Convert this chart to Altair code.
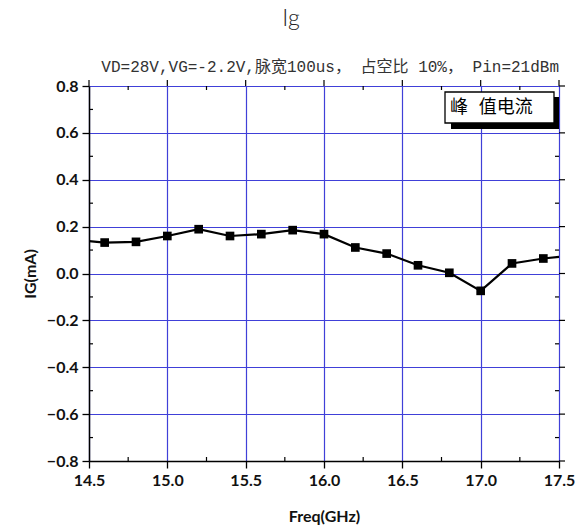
import altair as alt
import pandas as pd

# ---- data ----
freq = [14.4, 14.6, 14.8, 15.0, 15.2, 15.4, 15.6, 15.8, 16.0, 16.2, 16.4, 16.6, 16.8, 17.0, 17.2, 17.4, 17.6]
ig = [0.145, 0.132, 0.135, 0.160, 0.189, 0.160, 0.168, 0.185, 0.168, 0.111, 0.085, 0.035, 0.003, -0.074, 0.043, 0.064, 0.078]
shown = [False] + [True] * 15 + [False]

x_major = [14.5, 15.0, 15.5, 16.0, 16.5, 17.0, 17.5]
x_minor = [14.75, 15.25, 15.75, 16.25, 16.75, 17.25]
y_major = [-0.8, -0.6, -0.4, -0.2, 0.0, 0.2, 0.4, 0.6, 0.8]
y_minor = [-0.7, -0.5, -0.3, -0.1, 0.1, 0.3, 0.5, 0.7]

title_text = "Ig"
cond_text = "VD=28V,VG=-2.2V,脉宽100us， 占空比 10%， Pin=21dBm"
legend_text = "峰 值电流"
x_title = "Freq(GHz)"
y_title = "IG(mA)"

W, H = 470, 375
GRID = "#4040d8"
LBL_FONT = "Lato"
SERIF = "Liberation Mono, Noto Sans CJK SC"

df = pd.DataFrame({"freq": freq, "ig": ig, "shown": shown})
xs = alt.Scale(domain=[14.5, 17.5], nice=False, zero=False)
ys = alt.Scale(domain=[-0.8, 0.8], nice=False, zero=False)

x_axis = alt.Axis(values=x_major, format=".1f", grid=True, gridColor=GRID, gridWidth=1.2,
                  tickSize=7, tickColor="black", tickWidth=1.3, domainColor="black", domainWidth=1.5,
                  labelFont=LBL_FONT, labelFontWeight="bold", labelFontSize=16, labelColor="#111",
                  labelPadding=4, title=x_title, titleFont=LBL_FONT, titleFontWeight="bold",
                  titleFontSize=16, titleColor="#111", titleY=55, titleBaseline="middle",
                  labelFlush=False)
y_axis = alt.Axis(values=y_major, format=".1f", grid=True, gridColor=GRID, gridWidth=1.2,
                  tickSize=7, tickColor="black", tickWidth=1.3, domainColor="black", domainWidth=1.5,
                  labelFont=LBL_FONT, labelFontWeight="bold", labelFontSize=16, labelColor="#111",
                  labelPadding=4, title=y_title, titleFont=LBL_FONT, titleFontWeight="bold",
                  titleFontSize=16, titleColor="#111", titleX=-59, titleY=H / 2,
                  titleBaseline="middle", titleAngle=-90, labelFlush=False)

base = alt.Chart(df)

main = base.mark_line(color="#000", strokeWidth=2.2, clip=True).encode(
    x=alt.X("freq:Q", scale=xs, axis=x_axis),
    y=alt.Y("ig:Q", scale=ys, axis=y_axis),
)
pts = base.transform_filter("datum.shown").mark_point(
    shape="square", filled=True, color="#000", size=75, opacity=1
).encode(x=alt.X("freq:Q", scale=xs), y=alt.Y("ig:Q", scale=ys))

# minor ticks (inward) and mirrored major ticks on top / right
mx = pd.DataFrame({"v": x_minor})
my = pd.DataFrame({"v": y_minor})
Mx = pd.DataFrame({"v": x_major})
My = pd.DataFrame({"v": y_major})
rule = dict(color="black", strokeWidth=1.2)
minor_b = alt.Chart(mx).mark_rule(**rule).encode(
    x=alt.X("v:Q", scale=xs), y=alt.value(H), y2=alt.value(H - 4))
minor_t = alt.Chart(mx).mark_rule(**rule).encode(
    x=alt.X("v:Q", scale=xs), y=alt.value(0), y2=alt.value(4))
minor_l = alt.Chart(my).mark_rule(**rule).encode(
    y=alt.Y("v:Q", scale=ys), x=alt.value(0), x2=alt.value(4))
minor_r = alt.Chart(my).mark_rule(**rule).encode(
    y=alt.Y("v:Q", scale=ys), x=alt.value(W), x2=alt.value(W - 4))
major_t = alt.Chart(Mx).mark_rule(**rule).encode(
    x=alt.X("v:Q", scale=xs), y=alt.value(0), y2=alt.value(-6))
major_r = alt.Chart(My).mark_rule(**rule).encode(
    y=alt.Y("v:Q", scale=ys), x=alt.value(W), x2=alt.value(W + 6))

# legend box
one = pd.DataFrame({"t": [legend_text]})
shadow = alt.Chart(one).mark_rect(color="black").encode(
    x=alt.value(362), x2=alt.value(470), y=alt.value(11), y2=alt.value(43))
box = alt.Chart(one).mark_rect(fill="white", stroke="black", strokeWidth=1.3).encode(
    x=alt.value(356), x2=alt.value(465), y=alt.value(6), y2=alt.value(37))
leg = alt.Chart(one).mark_text(font=SERIF, fontSize=18, align="left", baseline="middle",
                               color="black").encode(
    x=alt.value(361), y=alt.value(22), text="t:N")

cond = alt.Chart(pd.DataFrame({"t": [cond_text]})).mark_text(
    font=SERIF, fontSize=16, align="right", baseline="alphabetic", color="#333"
).encode(x=alt.value(W), y=alt.value(-14), text="t:N")

chart = alt.layer(
    main, pts, minor_b, minor_t, minor_l, minor_r, major_t, major_r, shadow, box, leg, cond
).properties(
    width=W, height=H,
    autosize=alt.AutoSizeParams(type="none"),
    padding={"left": 89, "top": 86, "right": 22, "bottom": 67},
    title=alt.Title(title_text, font="Lato", fontSize=23, fontWeight=300,
                    color="#222", dx=-33, offset=28),
).configure_view(stroke="black", strokeWidth=1.5).configure(background="white")

chart.save("out.html", embed_options={"renderer": "svg", "actions": False})
